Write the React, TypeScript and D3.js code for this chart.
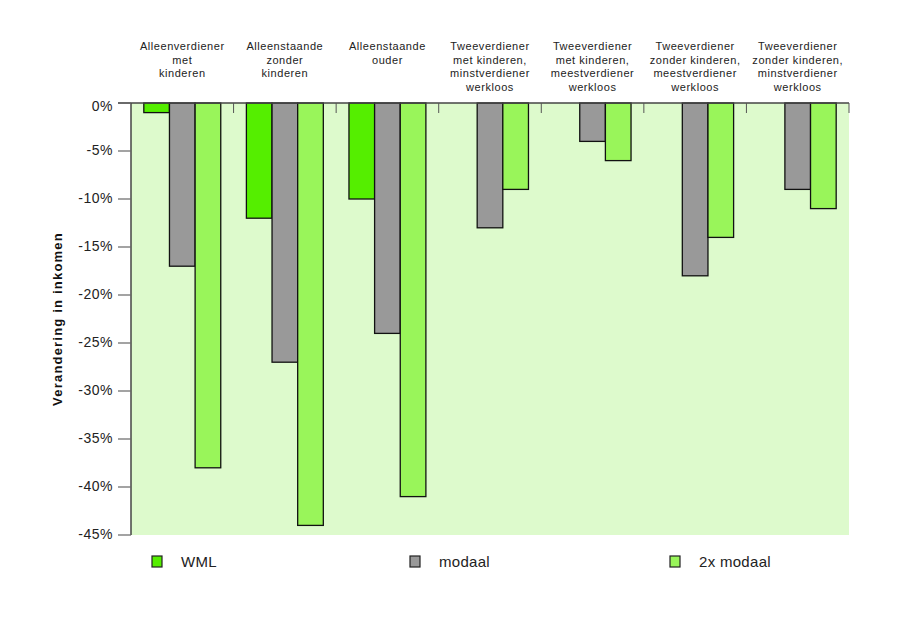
import React from "react";
import * as d3 from "d3";

const categories: string[][] = [
  ["Alleenverdiener", "met", "kinderen"],
  ["Alleenstaande", "zonder", "kinderen"],
  ["Alleenstaande", "ouder"],
  ["Tweeverdiener", "met kinderen,", "minstverdiener", "werkloos"],
  ["Tweeverdiener", "met kinderen,", "meestverdiener", "werkloos"],
  ["Tweeverdiener", "zonder kinderen,", "meestverdiener", "werkloos"],
  ["Tweeverdiener", "zonder kinderen,", "minstverdiener", "werkloos"],
];
const seriesNames = ["WML", "modaal", "2x modaal"];
const wml = [-1, -12, -10, 0, 0, 0, 0];
const modaal = [-17, -27, -24, -13, -4, -18, -9];
const dubbelModaal = [-38, -44, -41, -9, -6, -14, -11];
const yTicks = [0, -5, -10, -15, -20, -25, -30, -35, -40, -45];
const colors = ["#55ee00", "#999999", "#99f55a"];

export default function App() {
  const W = 900, H = 635;
  const left = 131, right = 849, top = 103, bottom = 535;
  const font = "'Liberation Sans', Arial, sans-serif";
  const x = d3.scaleBand<number>().domain(d3.range(categories.length)).range([left, right]);
  const xs = d3.scaleBand<number>().domain([0, 1, 2]).range([0, x.bandwidth()]).paddingOuter(0.5).paddingInner(0);
  const y = d3.scaleLinear().domain([0, -45]).range([top, bottom]);
  const series = [wml, modaal, dubbelModaal];
  return (
    <svg width={W} height={H} style={{ position: "absolute", left: 0, top: 0, background: "#fff" }}>
      <rect x={left} y={top} width={right - left} height={bottom - top} fill="#ddfacc" />
      {categories.map((_, i) =>
        series.map((s, k) =>
          s[i] === 0 ? null : (
            <rect key={`${i}-${k}`} x={(x(i) as number) + (xs(k) as number)} y={y(0)} width={xs.bandwidth()} height={y(s[i]) - y(0)}
              fill={colors[k]} stroke="#111" strokeWidth={1.3} />
          )
        )
      )}
      <line x1={118} x2={right} y1={top} y2={top} stroke="#444" strokeWidth={1.5} />
      <line x1={left} x2={left} y1={top} y2={bottom} stroke="#444" strokeWidth={1.5} />
      {categories.map((_, i) => (
        <line key={"ct" + i} x1={(x(i) as number) + x.bandwidth()} x2={(x(i) as number) + x.bandwidth()} y1={top} y2={top + 10} stroke="#555" strokeWidth={1} />
      ))}
      {yTicks.map((t) => (
        <g key={t}>
          <line x1={118} x2={left} y1={y(t)} y2={y(t)} stroke="#666" strokeWidth={1.2} />
          <text x={113} y={y(t) + (t === 0 ? 4 : 0)} dy="0.32em" textAnchor="end" fontFamily={font} fontSize={14} letterSpacing={0.5} fill="#222">{`${t === 0 ? "0" : t}%`}</text>
        </g>
      ))}
      {categories.map((lines, i) => (
        <text key={"cl" + i} textAnchor="middle" fontFamily={font} fontSize={11} letterSpacing={0.55} fill="#222">
          {lines.map((l, j) => (
            <tspan key={j} x={(x(i) as number) + x.bandwidth() / 2} y={50 + j * 13.5}>{l}</tspan>
          ))}
        </text>
      ))}
      <text transform={`translate(62,${(top + bottom) / 2}) rotate(-90)`} textAnchor="middle" fontFamily={font} fontSize={13} letterSpacing={1.2} fontWeight="bold" fill="#111">Verandering in inkomen</text>
      {seriesNames.map((n, k) => {
        const lx = [152, 410, 670][k];
        return (
          <g key={n}>
            <rect x={lx} y={556} width={10} height={11} fill={colors[k]} stroke="#222" strokeWidth={1.2} />
            <text x={lx + 29} y={567} fontFamily={font} fontSize={15} letterSpacing={0.3} fill="#222">{n}</text>
          </g>
        );
      })}
    </svg>
  );
}
